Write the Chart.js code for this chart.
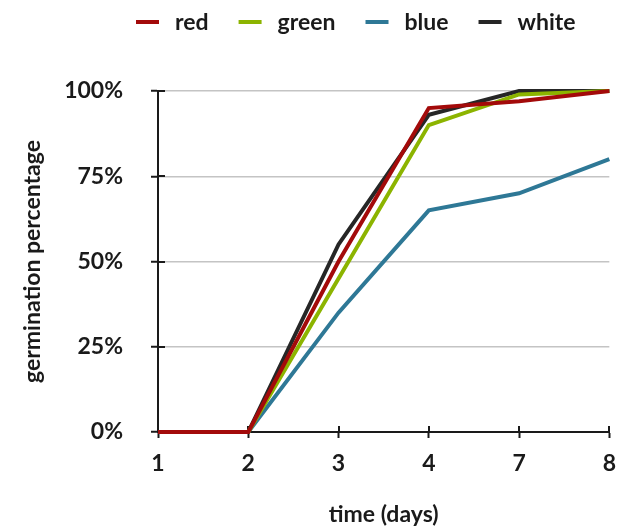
<!DOCTYPE html>
<html>
<head>
<meta charset="utf-8">
<script src="https://cdn.jsdelivr.net/npm/chart.js@4/dist/chart.umd.min.js"></script>
<style>
  html, body { margin: 0; padding: 0; background: #ffffff; }
  #wrap { width: 628px; height: 528px; }
</style>
</head>
<body>
<div id="wrap"><canvas id="chart" width="628" height="528"></canvas></div>
<script>
// Germination over time per light colour
const days = ['1', '2', '3', '4', '7', '8'];
const redValues   = [0, 0, 50, 95, 97, 100];
const greenValues = [0, 0, 45, 90, 99, 100];
const blueValues  = [0, 0, 35, 65, 70, 80];
const whiteValues = [0, 0, 55, 93, 100, 100];
const yTicks = [0, 25, 50, 75, 100];

const FONT = 'Lato, "Open Sans", sans-serif';
const INK = '#1a1a1a';

// Legend line samples with their names, drawn above the plot
const legendLines = {
  id: 'legendLines',
  afterDraw(chart) {
    const ctx = chart.ctx;
    ctx.save();
    ctx.font = 'bold 23px ' + FONT;
    ctx.textBaseline = 'middle';
    ctx.textAlign = 'left';
    let x = 136;
    const y = 22;
    chart.data.datasets.forEach(ds => {
      ctx.fillStyle = ds.borderColor;
      ctx.fillRect(x, y - 2, 23, 4);
      x += 23 + 16;
      ctx.fillStyle = INK;
      ctx.fillText(ds.label, x, y + 1);
      x += ctx.measureText(ds.label).width + 30;
    });
    ctx.restore();
  }
};

// Tick marks crossing into the plot area on both axes
const innerTicks = {
  id: 'innerTicks',
  beforeDatasetsDraw(chart) {
    const ctx = chart.ctx;
    const xs = chart.scales.x, ys = chart.scales.y;
    ctx.save();
    ctx.strokeStyle = INK;
    ctx.lineWidth = 2;
    ctx.beginPath();
    xs.ticks.forEach((t, i) => {
      const px = Math.round(xs.getPixelForTick(i));
      ctx.moveTo(px, xs.top);
      ctx.lineTo(px, xs.top - 6);
    });
    ys.ticks.forEach((t, i) => {
      const py = Math.round(ys.getPixelForTick(i));
      ctx.moveTo(ys.right, py);
      ctx.lineTo(ys.right + 7, py);
    });
    ctx.stroke();
    ctx.restore();
  }
};

const lineStyle = {
  borderWidth: 4,
  pointRadius: 0,
  pointHoverRadius: 0,
  tension: 0,
  fill: false,
  borderJoinStyle: 'miter',
  clip: false
};

const tickFont = { family: FONT, size: 23, weight: 'bold' };

new Chart(document.getElementById('chart'), {
  type: 'line',
  data: {
    labels: days,
    datasets: [
      Object.assign({ label: 'red',   data: redValues,   borderColor: '#a30a0a', backgroundColor: '#a30a0a' }, lineStyle),
      Object.assign({ label: 'green', data: greenValues, borderColor: '#8cb400', backgroundColor: '#8cb400' }, lineStyle),
      Object.assign({ label: 'blue',  data: blueValues,  borderColor: '#2e7896', backgroundColor: '#2e7896' }, lineStyle),
      Object.assign({ label: 'white', data: whiteValues, borderColor: '#262626', backgroundColor: '#262626' }, lineStyle)
    ]
  },
  options: {
    responsive: false,
    animation: false,
    events: [],
    layout: { padding: { top: 91, right: 16, left: 0, bottom: 0 } },
    plugins: {
      legend: { display: false },
      tooltip: { enabled: false }
    },
    scales: {
      x: {
        type: 'category',
        offset: false,
        afterFit(s) { s.height = 96; },
        border: { display: true, color: INK, width: 2 },
        grid: { display: true, drawOnChartArea: false, drawTicks: true, tickLength: 6, tickColor: INK, tickWidth: 2 },
        ticks: { color: INK, padding: 12, font: tickFont, maxRotation: 0 },
        title: { display: true, text: 'time (days)', color: INK, font: tickFont, padding: { top: 0, bottom: 0 } }
      },
      y: {
        min: 0,
        max: 100,
        afterFit(s) { s.width = 158; },
        afterBuildTicks(s) { s.ticks = yTicks.map(v => ({ value: v })); },
        border: { display: true, color: INK, width: 2 },
        grid: { color: '#c4c4c4', lineWidth: 1.5, drawTicks: true, tickLength: 7, tickColor: INK, tickWidth: 2 },
        ticks: { color: INK, padding: 28, font: tickFont, callback: v => v + '%' },
        title: { display: true, text: 'germination percentage', color: INK, font: tickFont, padding: { top: 19, bottom: 0 } }
      }
    }
  },
  plugins: [innerTicks, legendLines]
});
</script>
</body>
</html>
